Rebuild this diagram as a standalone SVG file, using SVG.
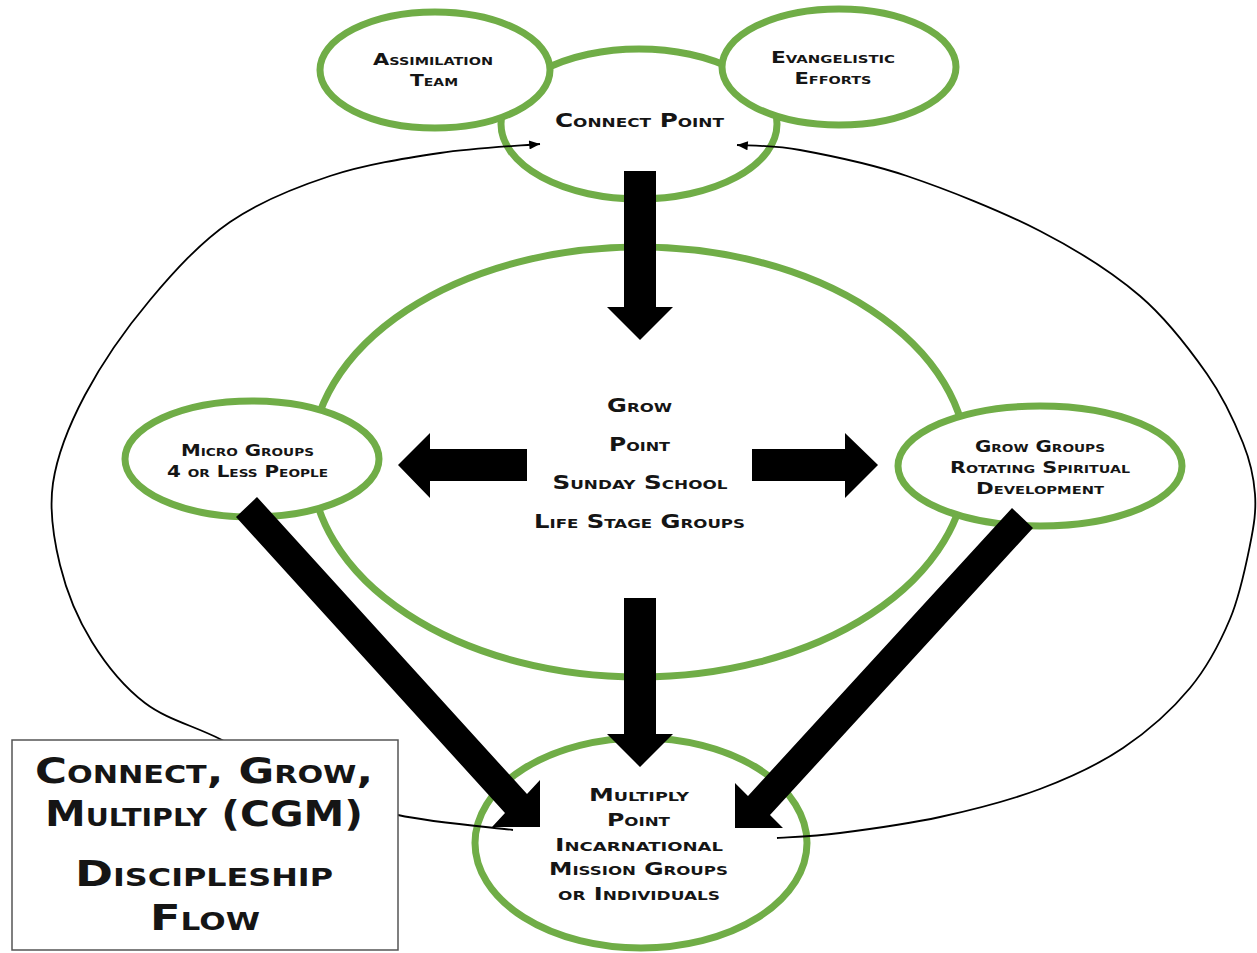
<svg xmlns="http://www.w3.org/2000/svg" width="1257" height="953" viewBox="0 0 1257 953">
<style>
.g{fill:#fff;stroke:#70ad47;stroke-width:7}
.gn{fill:none;stroke:#70ad47;stroke-width:7}
.t{font-family:"DejaVu Sans","Liberation Sans",sans-serif;font-weight:bold;font-variant:small-caps;fill:#151515;text-anchor:middle}
.s16{font-size:16px}
.s17{font-size:17px}
.s19{font-size:19px}
.s36{font-size:36px}
.ln{fill:none;stroke:#000;stroke-width:1.8}
.big{fill:#000}
</style>
<defs>
<marker id="ah" viewBox="0 0 12 10" refX="12" refY="5" markerWidth="12" markerHeight="9" markerUnits="userSpaceOnUse" orient="auto-start-reverse">
<path d="M0,0 L12,5 L0,10 Z" fill="#000"/>
</marker>
</defs>
<rect width="1257" height="953" fill="#fff"/>

<g id="grow-point">
<ellipse class="gn" cx="639" cy="462" rx="328" ry="215"/>
<text class="t s19" x="639.5" y="412" textLength="65" lengthAdjust="spacingAndGlyphs">Grow</text>
<text class="t s19" x="639.5" y="451" textLength="61" lengthAdjust="spacingAndGlyphs">Point</text>
<text class="t s19" x="640" y="489" textLength="175" lengthAdjust="spacingAndGlyphs">Sunday School</text>
<text class="t s19" x="639.5" y="528" textLength="211" lengthAdjust="spacingAndGlyphs">Life Stage Groups</text>
</g>

<g id="connect-point">
<ellipse class="g" cx="639" cy="124" rx="138" ry="75"/>
<text class="t s19" x="639.5" y="127" textLength="169" lengthAdjust="spacingAndGlyphs">Connect Point</text>
</g>

<g id="assimilation-team">
<ellipse class="g" cx="435" cy="70" rx="115" ry="58"/>
<text class="t s16" x="433" y="65" textLength="120" lengthAdjust="spacingAndGlyphs">Assimilation</text>
<text class="t s16" x="434" y="86" textLength="48" lengthAdjust="spacingAndGlyphs">Team</text>
</g>

<g id="evangelistic-efforts">
<ellipse class="g" cx="839" cy="67" rx="117" ry="58"/>
<text class="t s16" x="833" y="63" textLength="124" lengthAdjust="spacingAndGlyphs">Evangelistic</text>
<text class="t s16" x="833" y="84" textLength="77" lengthAdjust="spacingAndGlyphs">Efforts</text>
</g>

<g id="micro-groups">
<ellipse class="g" cx="252" cy="459" rx="127" ry="58"/>
<text class="t s16" x="247.5" y="456" textLength="133" lengthAdjust="spacingAndGlyphs">Micro Groups</text>
<text class="t s16" x="247.5" y="477" textLength="161" lengthAdjust="spacingAndGlyphs">4 or Less People</text>
</g>

<g id="grow-groups">
<ellipse class="g" cx="1040" cy="466" rx="142" ry="60"/>
<text class="t s16" x="1040" y="452" textLength="130" lengthAdjust="spacingAndGlyphs">Grow Groups</text>
<text class="t s16" x="1040" y="473" textLength="180" lengthAdjust="spacingAndGlyphs">Rotating Spiritual</text>
<text class="t s16" x="1040" y="494" textLength="128" lengthAdjust="spacingAndGlyphs">Development</text>
</g>

<g id="multiply-point">
<ellipse class="g" cx="641" cy="843" rx="166" ry="105"/>
<text class="t s17" x="639" y="801" textLength="100" lengthAdjust="spacingAndGlyphs">Multiply</text>
<text class="t s17" x="638.5" y="826" textLength="63" lengthAdjust="spacingAndGlyphs">Point</text>
<text class="t s17" x="639" y="851" textLength="168" lengthAdjust="spacingAndGlyphs">Incarnational</text>
<text class="t s17" x="638.5" y="875" textLength="179" lengthAdjust="spacingAndGlyphs">Mission Groups</text>
<text class="t s17" x="639" y="900" textLength="162" lengthAdjust="spacingAndGlyphs">or Individuals</text>
</g>

<g id="connectors">
<path class="ln" marker-start="url(#ah)" d="M540,144 C523.3,145.5 475,147.7 440,153 C405,158.3 365,164.5 330,176 C295,187.5 260,201.3 230,222 C200,242.7 174.2,271.2 150,300 C125.8,328.8 101.2,364.5 85,395 C68.8,425.5 57.2,454.7 53,483 C48.8,511.3 53.5,538.5 60,565 C66.5,591.5 77.8,619 92,642 C106.2,665 123.7,686.8 145,703 C166.3,719.2 192.5,725.3 220,739 C247.5,752.7 280.3,772.3 310,785 C339.7,797.7 364.2,807.5 398,815 C431.8,822.5 493.8,827.5 513,830"/>
<path class="ln" marker-end="url(#ah)" d="M777,838 C787.5,837.2 812.8,836.5 840,833 C867.2,829.5 906.7,824.3 940,817 C973.3,809.7 1009.5,800.5 1040,789 C1070.5,777.5 1098,764.8 1123,748 C1148,731.2 1172.2,709.5 1190,688 C1207.8,666.5 1220,642.8 1230,619 C1240,595.2 1245.8,565.8 1250,545 C1254.2,524.2 1256.2,511 1255,494 C1253.8,477 1251,463 1243,443 C1235,423 1224.2,398.5 1207,374 C1189.8,349.5 1167.8,319.8 1140,296 C1112.2,272.2 1078.8,251 1040,231 C1001.2,211 947,189.5 907,176 C867,162.5 828.3,155.2 800,150 C771.7,144.8 747.5,145.8 737,145"/>
<path class="big" d="M624,171 H656 V307 H673 L640,340 L607,307 H624 Z"/>
<path class="big" d="M624,598 H656 V734 H673 L640,767 L607,734 H624 Z"/>
<path class="big" d="M527,449 V481 H430 V498 L398,465 L430,433 V449 Z"/>
<path class="big" d="M752,449 H845 V433 L878,465 L845,498 V481 H752 Z"/>
<path class="big" d="M257,497 L527,794 L540,780 L540,827 L492,827 L505,813 L236,517 Z"/>
<path class="big" d="M1012,508 L1033,528 L770,815 L783,828 L735,828 L735,783 L748,796 Z"/>
</g>

<g id="title-box">
<rect x="12" y="740" width="386" height="210" fill="#fff" stroke="#555" stroke-width="1.5"/>
<text class="t s36" x="204" y="783" textLength="338" lengthAdjust="spacingAndGlyphs">Connect, Grow,</text>
<text class="t s36" x="204" y="826" textLength="318" lengthAdjust="spacingAndGlyphs">Multiply (CGM)</text>
<text class="t s36" x="204" y="886" textLength="258" lengthAdjust="spacingAndGlyphs">Discipleship</text>
<text class="t s36" x="205" y="930" textLength="110" lengthAdjust="spacingAndGlyphs">Flow</text>
</g>
</svg>
